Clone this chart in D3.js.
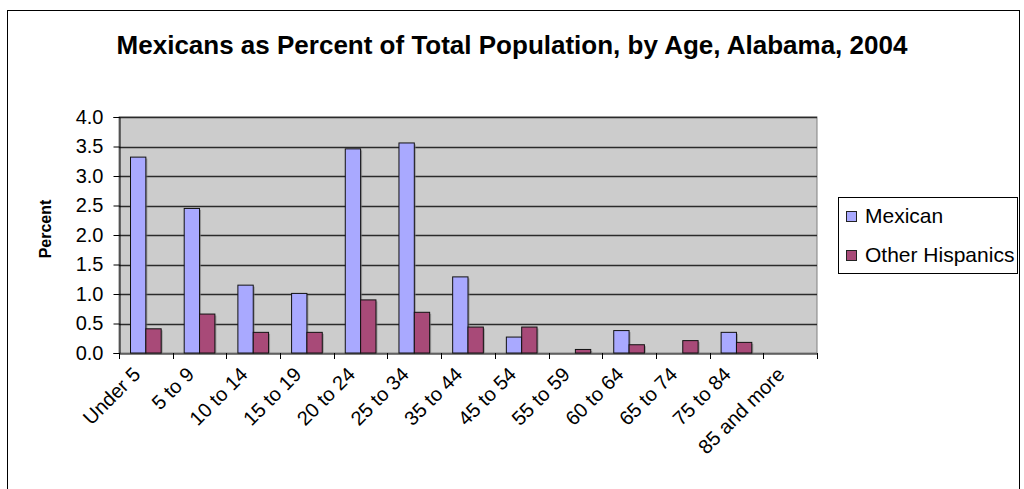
<!DOCTYPE html>
<html>
<head>
<meta charset="utf-8">
<script src="https://cdn.jsdelivr.net/npm/d3@7"></script>
<style>
  html, body { margin: 0; padding: 0; background: #fff; }
  svg { display: block; }
  text { font-family: "Liberation Sans", Arial, sans-serif; }
</style>
</head>
<body>
<svg id="chart" width="1024" height="489"></svg>
<script>
const categories = ["Under 5", "5 to 9", "10 to 14", "15 to 19", "20 to 24", "25 to 34", "35 to 44", "45 to 54", "55 to 59", "60 to 64", "65 to 74", "75 to 84", "85 and more"];
const mexican = [3.32, 2.45, 1.15, 1.01, 3.46, 3.56, 1.29, 0.27, 0, 0.38, 0, 0.35, 0];
const otherHispanics = [0.41, 0.66, 0.35, 0.35, 0.90, 0.69, 0.44, 0.44, 0.06, 0.14, 0.21, 0.18, 0];
const seriesNames = ["Mexican", "Other Hispanics"];
const yTicks = [0, 0.5, 1, 1.5, 2, 2.5, 3, 3.5, 4];
const title = "Mexicans as Percent of Total Population, by Age, Alabama, 2004";
const yTitle = "Percent";

const colors = ["#a9a9ff", "#a84a78"];
const svg = d3.select("#chart");

// outer frame
svg.append("rect").attr("x", 7.5).attr("y", 10.5).attr("width", 1012).attr("height", 500)
  .attr("fill", "#fff").attr("stroke", "#000").attr("stroke-width", 1);

const plot = { left: 119, right: 817, top: 117, bottom: 353 };

const x0 = d3.scaleBand().domain(categories).range([plot.left, plot.right]).paddingInner(0).paddingOuter(0);
const bw = x0.bandwidth() / 3.5;
const y = d3.scaleLinear().domain([0, 4]).range([plot.bottom, plot.top]);

// plot area
svg.append("rect").attr("x", plot.left).attr("y", plot.top)
  .attr("width", plot.right - plot.left).attr("height", plot.bottom - plot.top)
  .attr("fill", "#cccccc").attr("stroke", "#808080").attr("stroke-width", 1);

// gridlines
svg.append("g").selectAll("line").data(yTicks.slice(1)).join("line")
  .attr("x1", plot.left).attr("x2", plot.right)
  .attr("y1", d => Math.round(y(d)) + 0.5).attr("y2", d => Math.round(y(d)) + 0.5)
  .attr("stroke", "#2a2a2a").attr("stroke-width", 1.3);

// bars
const series = [mexican, otherHispanics];
series.forEach((vals, si) => {
  const g = svg.append("g");
  const data = categories.map((c, i) => ({ c, v: vals[i] })).filter(d => d.v > 0);
  g.selectAll("rect.sh").data(data).join("rect").attr("class", "sh")
    .attr("x", d => x0(d.c) + bw * 0.75 + si * bw + 1.5)
    .attr("y", d => y(d.v) + 1.5)
    .attr("width", bw).attr("height", d => y(0) - y(d.v) - 1.5)
    .attr("fill", "#7a7a7a").attr("opacity", 0.6);
  g.selectAll("rect.b").data(data).join("rect").attr("class", "b")
    .attr("x", d => x0(d.c) + bw * 0.75 + si * bw)
    .attr("y", d => y(d.v))
    .attr("width", bw).attr("height", d => y(0) - y(d.v))
    .attr("fill", colors[si]).attr("stroke", "#111").attr("stroke-width", 1);
});

// y axis
const yAxis = svg.append("g").attr("transform", `translate(${plot.left + 0.5},0)`)
  .call(d3.axisLeft(y).tickValues(yTicks).tickFormat(d3.format(".1f")).tickSize(6).tickPadding(10));
yAxis.select(".domain").attr("stroke", "#000");
yAxis.selectAll(".tick line").attr("stroke", "#000");
yAxis.selectAll("text").attr("font-size", 20).attr("fill", "#000")
  .style("font-family", "Liberation Sans, Arial, sans-serif");

// x axis
const xAxis = svg.append("g").attr("transform", `translate(0,${plot.bottom + 0.5})`)
  .call(d3.axisBottom(x0).tickSize(0).tickFormat(""));
xAxis.select(".domain").attr("stroke", "#000");
svg.append("g").selectAll("line").data(categories.concat(["_end"])).join("line")
  .attr("x1", (d, i) => Math.round(plot.left + i * x0.step()) + 0.5)
  .attr("x2", (d, i) => Math.round(plot.left + i * x0.step()) + 0.5)
  .attr("y1", plot.bottom).attr("y2", plot.bottom + 6)
  .attr("stroke", "#000");

svg.append("g").selectAll("text").data(categories).join("text")
  .attr("transform", d => `translate(${x0(d) + x0.bandwidth() / 2 - 8},${plot.bottom + 19}) rotate(-45)`)
  .attr("text-anchor", "end").attr("dominant-baseline", "middle")
  .attr("font-size", 20).attr("fill", "#000").text(d => d);

// y title
svg.append("text").attr("transform", `translate(51,229) rotate(-90)`)
  .attr("text-anchor", "middle").attr("font-size", 16).attr("font-weight", "bold").text(yTitle);

// title
svg.append("text").attr("x", 512).attr("y", 54).attr("text-anchor", "middle")
  .attr("font-size", 26).attr("font-weight", "bold").text(title);

// legend
const lg = svg.append("g");
lg.append("rect").attr("x", 838.5).attr("y", 197.5).attr("width", 179).attr("height", 76)
  .attr("fill", "#fff").attr("stroke", "#000");
seriesNames.forEach((n, i) => {
  const cy = 217 + i * 39;
  lg.append("rect").attr("x", 846.5).attr("y", cy - 5.5).attr("width", 10).attr("height", 10)
    .attr("fill", colors[i]).attr("stroke", "#222");
  lg.append("text").attr("x", 865).attr("y", cy).attr("dominant-baseline", "middle")
    .attr("font-size", 21).attr("fill", "#000").text(n);
});
</script>
</body>
</html>
